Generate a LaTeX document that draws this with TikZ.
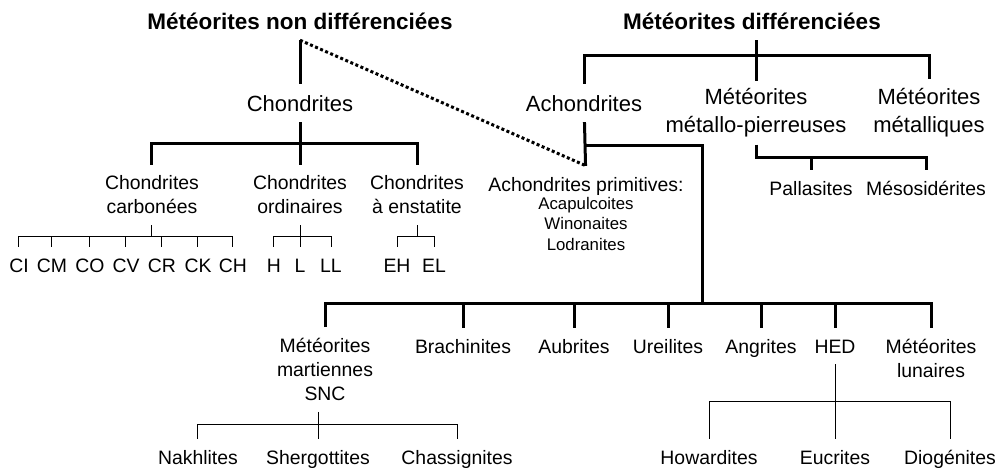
\documentclass[tikz,border=0pt]{standalone}
\usepackage{fontspec}
\setmainfont{Liberation Sans}
\usepackage{tikz}
\usetikzlibrary{positioning}
\tikzstyle{rootlabel} = [font=\fontsize{22.5}{27}\selectfont\bfseries, inner xsep=0pt, inner ysep=11pt, text height=16pt, text depth=0pt]
\tikzstyle{classlabel} = [font=\fontsize{22}{28}\selectfont, inner xsep=0pt, inner ysep=11pt, text height=16pt, text depth=0pt]
\tikzstyle{classpair} = [font=\fontsize{22}{28}\selectfont, align=center, inner xsep=0pt, inner ysep=11pt]
\tikzstyle{typelabel} = [font=\fontsize{19.4}{24}\selectfont, inner xsep=0pt, inner ysep=11pt, text height=14pt, text depth=0pt]
\tikzstyle{typelines} = [font=\fontsize{19.4}{24}\selectfont, align=center, inner xsep=0pt, inner ysep=11pt]
\tikzstyle{smalllabel} = [font=\fontsize{16.8}{20.5}\selectfont, align=center, inner sep=0pt]
\tikzstyle{trunk} = [line width=3pt]
\tikzstyle{twig} = [line width=1pt]
\tikzstyle{link} = [line width=3pt, dash pattern=on 3pt off 2.5pt]

\begin{document}
\begin{tikzpicture}[node distance=82pt]
    \useasboundingbox (-300pt,21pt) rectangle (698pt,-448pt);

    \node (nondiff) [rootlabel] {Météorites non différenciées};
    \node (diff) [rootlabel, right of=nondiff, xshift=370pt] {Météorites différenciées};

    % chondrites
    \node (chond) [classlabel, below of=nondiff] {Chondrites};
    \node (carb) [typelines, below of=chond, xshift=-148pt, yshift=-10pt] {Chondrites\\carbonées};
    \node (ordi) [typelines, below of=chond, yshift=-10pt] {Chondrites\\ordinaires};
    \node (ensta) [typelines, below of=chond, xshift=117pt, yshift=-10pt] {Chondrites\\à enstatite};
    \foreach \leaf/\dx in {CI/-133, CM/-100, CO/-62, CV/-26, CR/10, CK/46, CH/81}
        \node (\leaf) [typelabel, below of=carb, xshift=\dx pt, yshift=12pt] {\leaf};
    \foreach \leaf/\dx in {H/-26, L/0, LL/31}
        \node (\leaf) [typelabel, below of=ordi, xshift=\dx pt, yshift=12pt] {\leaf};
    \foreach \leaf/\dx in {EH/-20, EL/17}
        \node (\leaf) [typelabel, below of=ensta, xshift=\dx pt, yshift=12pt] {\leaf};

    % differentiated
    \node (achon) [classlabel, below of=diff, xshift=-168pt] {Achondrites};
    \node (metal) [classpair, inner ysep=7pt, below of=diff, xshift=4pt, yshift=-10pt] {Météorites\\métallo-pierreuses};
    \node (metall) [classpair, inner ysep=9pt, below of=diff, xshift=177pt, yshift=-10pt] {Météorites\\métalliques};
    \node (prim) [typelabel, below of=achon, xshift=2pt, yshift=1pt] {Achondrites primitives:};
    \node (primlist) [smalllabel, below of=prim, yshift=42.5pt] {Acapulcoites\\Winonaites\\Lodranites};
    \node (pallas) [typelabel, below of=metal, xshift=55pt, yshift=7pt] {Pallasites};
    \node (meso) [typelabel, below of=metal, xshift=170pt, yshift=7pt] {Mésosidérites};

    % achondrite groups
    \node (mars) [typelines, below of=achon, xshift=-259pt, yshift=-184.5pt] {Météorites\\martiennes\\SNC};
    \node (brach) [typelabel, below of=achon, xshift=-121pt, yshift=-161pt] {Brachinites};
    \node (aubr) [typelabel, below of=achon, xshift=-10pt, yshift=-161pt] {Aubrites};
    \node (ureil) [typelabel, below of=achon, xshift=84pt, yshift=-161pt] {Ureilites};
    \node (angr) [typelabel, below of=achon, xshift=177pt, yshift=-161pt] {Angrites};
    \node (hed) [typelabel, below of=achon, xshift=251pt, yshift=-161pt] {HED};
    \node (lunar) [typelines, below of=achon, xshift=347pt, yshift=-173pt] {Météorites\\lunaires};
    \node (nakh) [typelabel, below of=mars, xshift=-127pt, yshift=-5.5pt] {Nakhlites};
    \node (sherg) [typelabel, below of=mars, xshift=-7pt, yshift=-5.5pt] {Shergottites};
    \node (chass) [typelabel, below of=mars, xshift=132pt, yshift=-5.5pt] {Chassignites};
    \node (howard) [typelabel, below of=hed, xshift=-126pt, yshift=-29pt] {Howardites};
    \node (eucr) [typelabel, below of=hed, yshift=-29pt] {Eucrites};
    \node (diog) [typelabel, below of=hed, xshift=115pt, yshift=-29pt] {Diogénites};

    \coordinate (cbar) at (0pt,-122pt);
    \coordinate (tbar) at (0pt,-215pt);
    \coordinate (dbar) at (0pt,-34pt);
    \coordinate (abar) at (0pt,-124pt);
    \coordinate (mbar) at (0pt,-136pt);
    \coordinate (drop) at (402pt,-282pt);
    \coordinate (sncbar) at (0pt,-403pt);
    \coordinate (hedbar) at (0pt,-380pt);

    \draw [trunk] (nondiff) -- (chond);
    \draw [trunk] (chond) -- (ordi);
    \draw [trunk] (carb.north) |- (ensta.north |- cbar) -- (ensta.north);
    \draw [twig] (carb) -- (carb.south |- tbar);
    \draw [twig] (CI.north) |- (CH.north |- tbar) -- (CH.north);
    \foreach \leaf in {CM, CO, CV, CR, CK}
        \draw [twig] (\leaf) -- (\leaf.north |- tbar);
    \draw [twig] (ordi) -- (L);
    \draw [twig] (H.north) |- (LL.north |- tbar) -- (LL.north);
    \draw [twig] (ensta) -- (ensta.south |- tbar);
    \draw [twig] (EH.north) |- (EL.north |- tbar) -- (EL.north);

    \draw [trunk] (metal.north |- diff.south) -- (metal.north);
    \draw [trunk] (achon.north) |- (metall.north |- dbar) -- (metall.north);
    \draw [trunk] (achon) -- (prim);
    \draw [trunk] (achon.south |- abar) -| (drop);
    \draw [link] (nondiff.south) -- (prim.north);
    \draw [trunk] (metal.south) |- (meso.north |- mbar) -- (meso.north);
    \draw [trunk] (pallas) -- (pallas.north |- mbar);

    \draw [trunk] (mars.north) |- (lunar.north |- drop) -- (lunar.north);
    \foreach \kind in {brach, aubr, ureil, angr, hed}
        \draw [trunk] (\kind) -- (\kind.north |- drop);
    \draw [twig] (mars.south -| sherg) -- (sherg);
    \draw [twig] (nakh.north) |- (chass.north |- sncbar) -- (chass.north);
    \draw [twig] (hed) -- (eucr);
    \draw [twig] (howard.north) |- (diog.north |- hedbar) -- (diog.north);
\end{tikzpicture}
\end{document}
